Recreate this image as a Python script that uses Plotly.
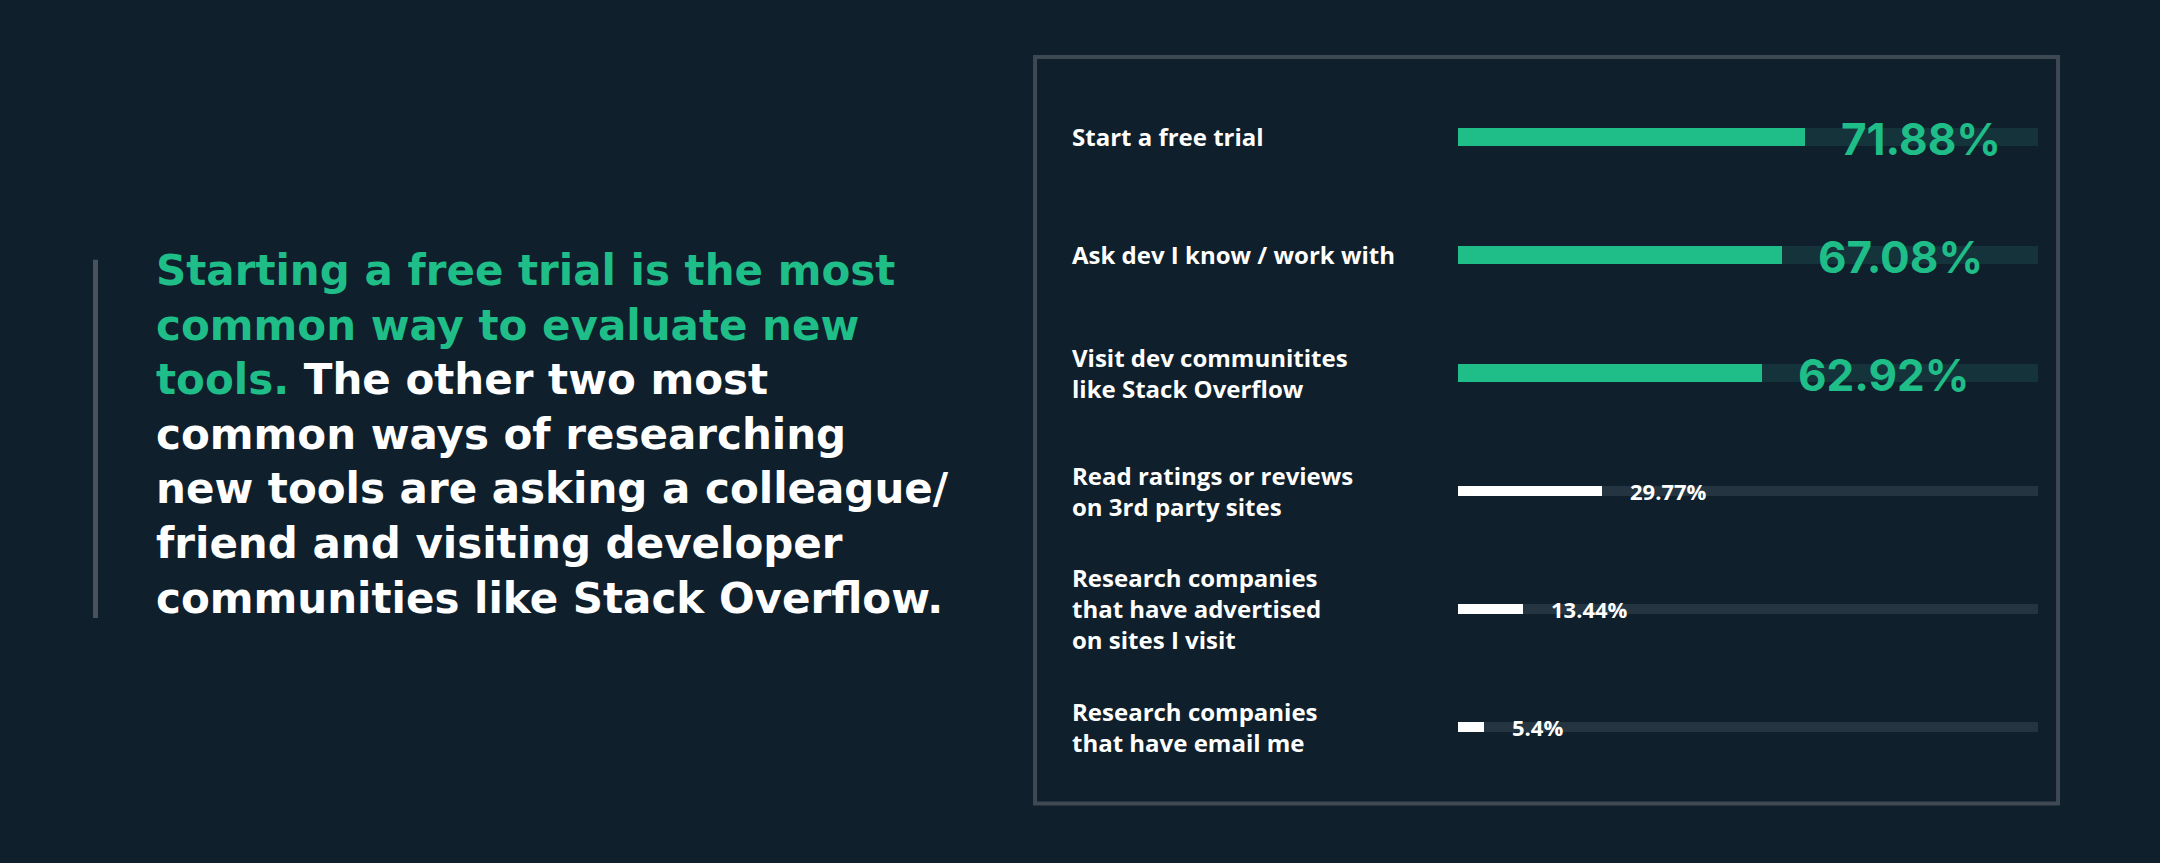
import plotly.graph_objects as go

# survey answers, top to bottom
categories = [
    "Start a free trial",
    "Ask dev I know / work with",
    "Visit dev communitites<br>like Stack Overflow",
    "Read ratings or reviews<br>on 3rd party sites",
    "Research companies<br>that have advertised<br>on sites I visit",
    "Research companies<br>that have email me",
]
values = [71.88, 67.08, 62.92, 29.77, 13.44, 5.4]
value_labels = ["71.88%", "67.08%", "62.92%", "29.77%", "13.44%", "5.4%"]
highlight = [True, True, True, False, False, False]
scale_max = 120  # full length of the grey track

BG = "#0f1f2c"
GREEN = "#1fbd87"
WHITE = "#ffffff"

bar_colors = [GREEN if h else WHITE for h in highlight]
track_colors = ["#14333a" if h else "#243440" for h in highlight]
widths = [0.16 if h else 0.085 for h in highlight]

fig = go.Figure()

# background track
fig.add_trace(go.Bar(
    y=categories, x=[scale_max] * len(categories), orientation="h",
    marker=dict(color=track_colors, line=dict(width=0)),
    width=widths, hoverinfo="skip", showlegend=False,
))
# actual values
fig.add_trace(go.Bar(
    y=categories, x=values, orientation="h",
    marker=dict(color=bar_colors, line=dict(width=0)),
    width=widths, showlegend=False,
))

annotations = []
for cat, v, lab, h in zip(categories, values, value_labels, highlight):
    # value labels
    annotations.append(dict(
        x=v, y=cat, xref="x", yref="y", text=f"<b>{lab}</b>",
        xanchor="left", yanchor="middle", showarrow=False,
        xshift=34 if h else 26, yshift=-2 if h else 0,
        font=dict(family="Inter" if h else "Open Sans", size=44 if h else 22,
                  color=GREEN if h else WHITE),
    ))
    # category labels on the left of the bars
    annotations.append(dict(
        x=0.4955, y=cat, xref="paper", yref="y", text=f"<b>{cat}</b>",
        xanchor="left", yanchor="middle", align="left", showarrow=False,
        font=dict(family="Open Sans", size=24, color=WHITE),
    ))

# headline on the left
g = f'<span style="color:{GREEN}">'
headline = (
    g + "Starting a free trial is the most</span><br>"
    + g + "common way to evaluate new</span><br>"
    + g + "tools.</span> The other two most<br>"
    "common ways of researching<br>"
    "new tools are asking a colleague/<br>"
    "friend and visiting developer<br>"
    "communities like Stack Overflow."
)
annotations.append(dict(
    x=0.0715, y=0.497, xref="paper", yref="paper", text=f"<b>{headline}</b>",
    xanchor="left", yanchor="middle", align="left", showarrow=False,
    font=dict(family="DejaVu Sans", size=42, color=WHITE),
))

shapes = [
    # frame around the chart
    dict(type="rect", xref="paper", yref="paper",
         x0=0.4792, x1=0.9528, y0=0.069, y1=0.934,
         line=dict(color="#3f4953", width=4)),
    # accent line next to headline
    dict(type="line", xref="paper", yref="paper",
         x0=0.0442, x1=0.0442, y0=0.284, y1=0.699,
         line=dict(color="#4a535b", width=5)),
]

fig.update_layout(
    width=2160, height=863,
    margin=dict(l=0, r=0, t=0, b=0),
    paper_bgcolor=BG, plot_bgcolor=BG,
    barmode="overlay", bargap=0,
    xaxis=dict(domain=[0.675, 0.9435], range=[0, scale_max],
               visible=False, fixedrange=True),
    yaxis=dict(domain=[0.0892, 0.9097], autorange="reversed",
               visible=False, fixedrange=True),
    annotations=annotations,
    shapes=shapes,
)

# drop the default page margin so the figure fills the window
fig.write_html(
    "out.html",
    config={"displayModeBar": False},
    post_script="document.body.style.margin='0';"
                "document.body.style.background='" + BG + "';",
)
